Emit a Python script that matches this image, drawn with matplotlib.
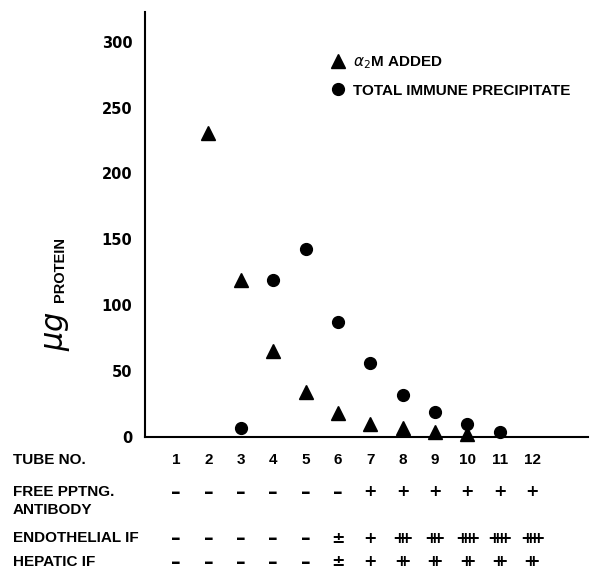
import matplotlib
matplotlib.use("Agg")
import matplotlib.pyplot as plt
from matplotlib.transforms import blended_transform_factory
from matplotlib.lines import Line2D

# ---- data ----
tubes = [1, 2, 3, 4, 5, 6, 7, 8, 9, 10, 11, 12]
tube_labels = ["1", "2", "3", "4", "5", "6", "7", "8", "9", "10", "11", "12"]

a2m_tubes = [2, 3, 4, 5, 6, 7, 8, 9, 10]
a2m_added = [231, 119, 65, 34.5, 18, 9.5, 7, 3.5, 2.5]

tip_tubes = [3, 4, 5, 6, 7, 8, 9, 10, 11]
total_precip = [7, 119.5, 143, 87, 56, 32, 19, 9.5, 4]

free_antibody = ["-", "-", "-", "-", "-", "-", "+", "+", "+", "+", "+", "+"]
endothelial_if = ["-", "-", "-", "-", "-", "±", "+", "+++", "+++", "++++", "++++", "++++"]
hepatic_if = ["-", "-", "-", "-", "-", "±", "+", "++", "++", "++", "++", "++"]

row_labels = ["TUBE NO.", "FREE PPTNG.", "ANTIBODY", "ENDOTHELIAL IF", "HEPATIC IF"]
yticks = [0, 50, 100, 150, 200, 250, 300]
legend_labels = [r"$\alpha_2$M ADDED", "TOTAL IMMUNE PRECIPITATE"]

# ---- figure ----
W, H = 590, 571
fig = plt.figure(figsize=(W / 100, H / 100), dpi=100)
ax = fig.add_axes([145 / W, 1 - 437 / H, 443 / W, 425 / H])

ax.set_xlim(0.04, 13.73)
ax.set_ylim(0, 322.5)
for s in ["top", "right"]:
    ax.spines[s].set_visible(False)
for s in ["left", "bottom"]:
    ax.spines[s].set_linewidth(1.5)

ax.set_xticks([])
ax.set_yticks(yticks)
ax.set_yticklabels([str(v) for v in yticks], fontfamily="DejaVu Sans",
                   fontweight="bold", fontsize=10.5)
ax.tick_params(axis="y", length=0, pad=9)

ax.plot(a2m_tubes, a2m_added, ls="", marker="^", ms=9.5, color="black", clip_on=False)
ax.plot(tip_tubes, total_precip, ls="", marker="o", ms=8.5, color="black", clip_on=False)

handles = [Line2D([], [], ls="", marker="^", ms=9.5, color="black"),
           Line2D([], [], ls="", marker="o", ms=8.5, color="black")]
ax.legend(handles, legend_labels, loc="upper left",
          bbox_to_anchor=(332 / W, 1 - 54 / H), bbox_transform=fig.transFigure,
          frameon=False, borderpad=0, borderaxespad=0, handlelength=0.8,
          handletextpad=0.55, labelspacing=0.86,
          prop={"family": ["Liberation Sans", "DejaVu Sans"], "weight": "bold", "size": 11})

# y label: script "μg" + PROTEIN
fig.text(60 / W, 1 - 270 / H, "PROTEIN", rotation=90, ha="center", va="center",
         fontfamily=["Liberation Sans", "DejaVu Sans"], fontweight="bold", fontsize=10.5)
fig.text(57 / W, 1 - 331 / H, r"$\mu g$", rotation=90, ha="center", va="center",
         fontsize=22)

# ---- table below axis ----
trans = blended_transform_factory(ax.transData, fig.transFigure)
label_font = dict(fontfamily=["Liberation Sans", "DejaVu Sans"], fontweight="bold", fontsize=11)
row_y = [458, 490, 508, 537, 560]
for lab, yp in zip(row_labels, row_y):
    fig.text(13 / W, 1 - yp / H, lab, ha="left", va="center_baseline", **label_font)

num_font = dict(fontfamily=["Liberation Sans", "DejaVu Sans"], fontweight="bold", fontsize=11)
for t, lab in zip(tubes, tube_labels):
    ax.text(t, 1 - 458 / H, lab, transform=trans, ha="center", va="center_baseline", **num_font)

plus_font = dict(fontfamily="DejaVu Sans", fontweight="bold", fontsize=11.5)
dash_font = dict(fontfamily="DejaVu Sans", fontweight="bold", fontsize=14)


def symbol_text(s):
    if s == "-":
        return "\u2013"
    if s == "±":
        return r"$\mathbf{\pm}$"
    parts = [r"\mathbf{+}"] * len(s)
    return "$" + r"\hspace{-0.62}".join(parts) + "$"


for row, yp in zip([free_antibody, endothelial_if, hepatic_if], [490, 537, 560]):
    for t, s in zip(tubes, row):
        font = dash_font if s == "-" else plus_font
        ax.text(t, 1 - yp / H, symbol_text(s), transform=trans, ha="center",
                va="center_baseline", **font)

fig.savefig("out.png", dpi=100)
